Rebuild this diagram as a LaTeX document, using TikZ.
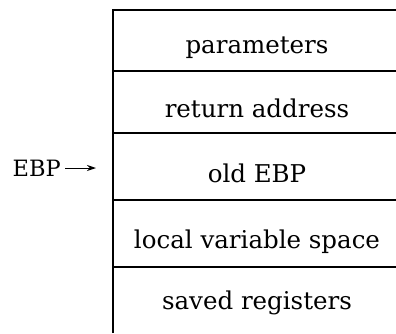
\documentclass[tikz,border=0pt]{standalone}
\usepackage{fontspec}
\setmainfont{DejaVu Serif}
\usepackage{tikz}
\usetikzlibrary{arrows.meta}

\begin{document}
\begin{tikzpicture}[x=1pt, y=-1pt, line width=1.3pt]
  \tikzset{every node/.style={font=\fontsize{24.5}{29}\selectfont, inner sep=0pt},
           cell/.style={anchor=base}}
  \useasboundingbox (0,0) rectangle (396,333);
  % frame of the stack, open at the right and at the bottom
  \draw (113,333) -- (113,10) -- (396,10);
  \foreach \y in {71,133,200,267}
    \draw (113,\y) -- (396,\y);
  % contents of each slot
  \node[cell] (params) at (257,53) {parameters};
  \node[cell] (retaddr) at (257,117) {return address};
  \node[cell] (oldebp) at (257,182) {old EBP};
  \node[cell] (locals) at (257,248) {local variable space};
  \node[cell] (saved) at (257,309) {saved registers};
  % frame pointer
  \node[anchor=base west, font=\fontsize{22.5}{27}\selectfont] (ebp) at (12,176) {EBP};
  \coordinate (ebptip) at (96,168);
  \draw[line width=1pt, -{Stealth[length=9pt, width=6pt]}] (ebp.east |- ebptip) ++(4,0) -- (ebptip);
\end{tikzpicture}
\end{document}
